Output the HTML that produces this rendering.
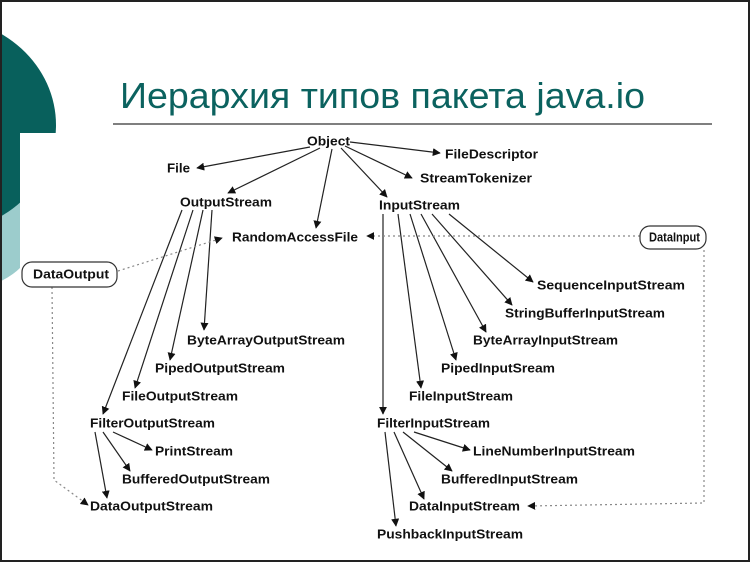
<!DOCTYPE html>
<html><head><meta charset="utf-8"><style>
html,body{margin:0;padding:0;background:#fff}
svg{display:block}
.n text{font-family:"Liberation Sans",Arial,sans-serif;font-weight:bold;font-size:13px;fill:#111;dominant-baseline:central}
</style></head><body>
<svg width="750" height="562" viewBox="0 0 750 562" xmlns="http://www.w3.org/2000/svg">
<defs>
<marker id="a" viewBox="0 0 10 10" refX="9" refY="5" markerWidth="8" markerHeight="8" orient="auto" markerUnits="userSpaceOnUse"><path d="M0,0 L10,5 L0,10 z" fill="#111"/></marker>
<clipPath id="c1"><path d="M0,0 H200 V133 H20 V400 H0 z"/></clipPath>
<clipPath id="c2"><rect x="0" y="0" width="20" height="400"/></clipPath>
</defs>
<rect x="0" y="0" width="750" height="562" fill="#fff"/>
<g clip-path="url(#c2)"><ellipse cx="-40" cy="235" rx="75" ry="55" fill="#9ccccc"/></g>
<g clip-path="url(#c1)"><ellipse cx="-62" cy="125" rx="118" ry="108" fill="#08605c"/></g>
<rect x="1" y="1" width="748" height="560" fill="none" stroke="#222" stroke-width="2"/>
<text x="120" y="108" font-family="'Liberation Sans',Arial,sans-serif" font-size="36" fill="#0b625f" textLength="525" lengthAdjust="spacingAndGlyphs">Иерархия типов пакета java.io</text>
<line x1="113" y1="124" x2="712" y2="124" stroke="#555" stroke-width="1.5"/>
<g stroke="#222" stroke-width="1.2" fill="none" marker-end="url(#a)">
<line x1="310" y1="147" x2="197" y2="168"/>
<line x1="320" y1="148" x2="228" y2="193"/>
<line x1="332" y1="149" x2="316" y2="228"/>
<line x1="350" y1="142" x2="440" y2="153"/>
<line x1="345" y1="146" x2="412" y2="178"/>
<line x1="341" y1="148" x2="387" y2="197"/>
<line x1="182" y1="210" x2="103" y2="414"/>
<line x1="193" y1="210" x2="135" y2="388"/>
<line x1="203" y1="210" x2="170" y2="360"/>
<line x1="212" y1="210" x2="204" y2="330"/>
<line x1="383" y1="214" x2="383" y2="414"/>
<line x1="398" y1="214" x2="421" y2="388"/>
<line x1="410" y1="214" x2="456" y2="360"/>
<line x1="421" y1="214" x2="486" y2="332"/>
<line x1="432" y1="214" x2="512" y2="305"/>
<line x1="449" y1="214" x2="533" y2="282"/>
<line x1="95" y1="432" x2="107" y2="498"/>
<line x1="103" y1="432" x2="130" y2="471"/>
<line x1="113" y1="432" x2="152" y2="450"/>
<line x1="385" y1="432" x2="396" y2="526"/>
<line x1="394" y1="432" x2="424" y2="499"/>
<line x1="403" y1="432" x2="452" y2="471"/>
<line x1="414" y1="432" x2="470" y2="450"/>
</g>
<g stroke="#888" stroke-width="1.2" stroke-dasharray="2,3" fill="none" marker-end="url(#a)">
<line x1="640" y1="236" x2="367" y2="236"/>
<polyline points="704,250 704,503 528,506"/>
<line x1="118" y1="271" x2="222" y2="238"/>
<polyline points="52,287 54,480 88,505"/>
</g>
<rect x="640" y="226" width="66" height="23" rx="10" fill="#fff" stroke="#333" stroke-width="1.2"/>
<rect x="22" y="262" width="95" height="25" rx="10" fill="#fff" stroke="#333" stroke-width="1.2"/>
<g class="n">
<text x="307" y="141" textLength="43" lengthAdjust="spacingAndGlyphs">Object</text>
<text x="167" y="168" textLength="23" lengthAdjust="spacingAndGlyphs">File</text>
<text x="445" y="154" textLength="93" lengthAdjust="spacingAndGlyphs">FileDescriptor</text>
<text x="420" y="178" textLength="112" lengthAdjust="spacingAndGlyphs">StreamTokenizer</text>
<text x="180" y="202" textLength="92" lengthAdjust="spacingAndGlyphs">OutputStream</text>
<text x="379" y="205" textLength="81" lengthAdjust="spacingAndGlyphs">InputStream</text>
<text x="232" y="237" textLength="126" lengthAdjust="spacingAndGlyphs">RandomAccessFile</text>
<text x="649" y="237" textLength="51" lengthAdjust="spacingAndGlyphs">DataInput</text>
<text x="33" y="274" textLength="76" lengthAdjust="spacingAndGlyphs">DataOutput</text>
<text x="537" y="285" textLength="148" lengthAdjust="spacingAndGlyphs">SequenceInputStream</text>
<text x="505" y="313" textLength="160" lengthAdjust="spacingAndGlyphs">StringBufferInputStream</text>
<text x="473" y="340" textLength="145" lengthAdjust="spacingAndGlyphs">ByteArrayInputStream</text>
<text x="187" y="340" textLength="158" lengthAdjust="spacingAndGlyphs">ByteArrayOutputStream</text>
<text x="155" y="368" textLength="130" lengthAdjust="spacingAndGlyphs">PipedOutputStream</text>
<text x="441" y="368" textLength="114" lengthAdjust="spacingAndGlyphs">PipedInputSream</text>
<text x="122" y="396" textLength="116" lengthAdjust="spacingAndGlyphs">FileOutputStream</text>
<text x="409" y="396" textLength="104" lengthAdjust="spacingAndGlyphs">FileInputStream</text>
<text x="90" y="423" textLength="125" lengthAdjust="spacingAndGlyphs">FilterOutputStream</text>
<text x="377" y="423" textLength="113" lengthAdjust="spacingAndGlyphs">FilterInputStream</text>
<text x="155" y="451" textLength="78" lengthAdjust="spacingAndGlyphs">PrintStream</text>
<text x="473" y="451" textLength="162" lengthAdjust="spacingAndGlyphs">LineNumberInputStream</text>
<text x="122" y="479" textLength="148" lengthAdjust="spacingAndGlyphs">BufferedOutputStream</text>
<text x="441" y="479" textLength="137" lengthAdjust="spacingAndGlyphs">BufferedInputStream</text>
<text x="90" y="506" textLength="123" lengthAdjust="spacingAndGlyphs">DataOutputStream</text>
<text x="409" y="506" textLength="111" lengthAdjust="spacingAndGlyphs">DataInputStream</text>
<text x="377" y="534" textLength="146" lengthAdjust="spacingAndGlyphs">PushbackInputStream</text>
</g>
</svg>
</body></html>
